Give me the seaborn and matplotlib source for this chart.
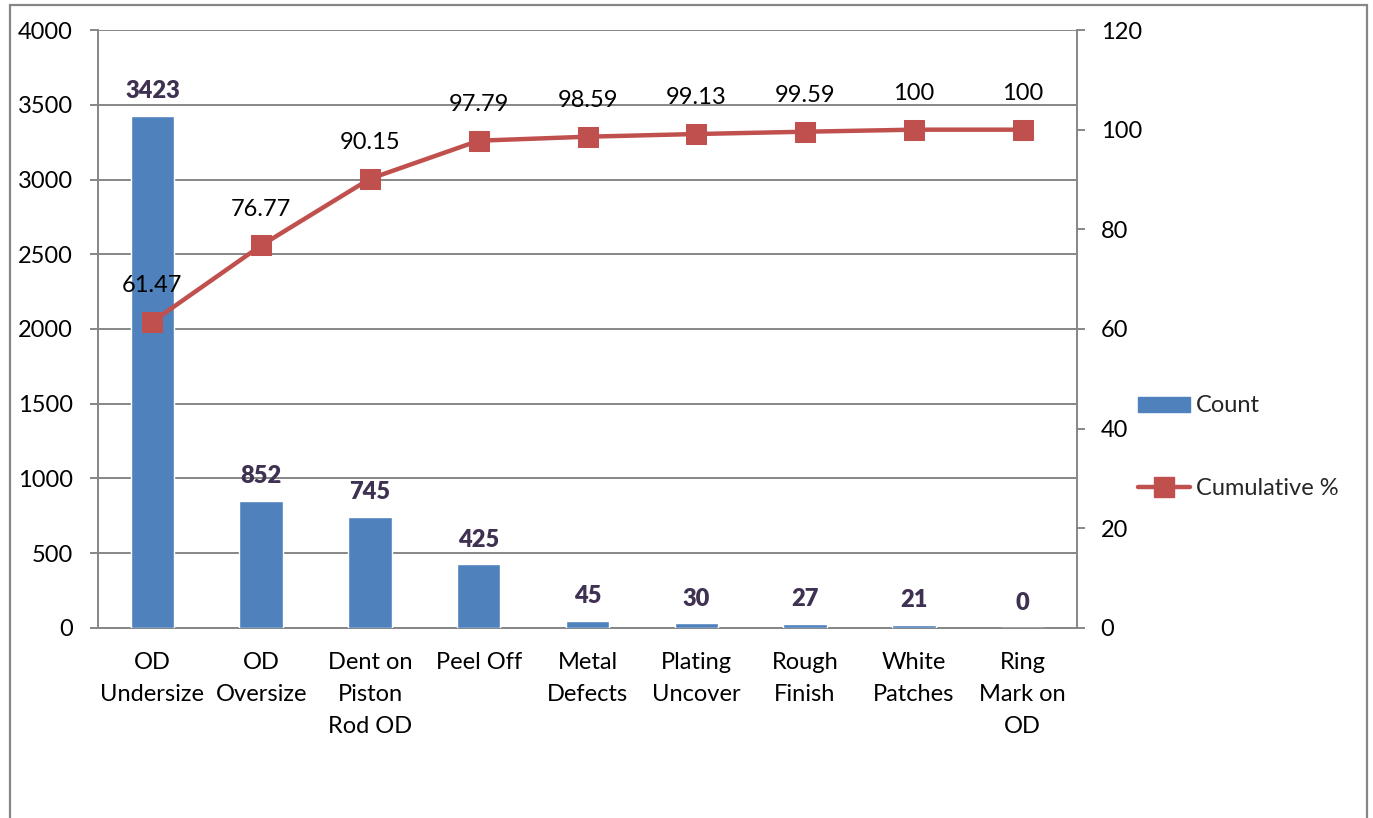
import numpy as np
import pandas as pd
import matplotlib
matplotlib.use("Agg")
import matplotlib.pyplot as plt
import seaborn as sns
from matplotlib.patches import Rectangle, Patch
from matplotlib.lines import Line2D

categories = ["OD\nUndersize", "OD\nOversize", "Dent on\nPiston\nRod OD", "Peel Off",
              "Metal\nDefects", "Plating\nUncover", "Rough\nFinish", "White\nPatches",
              "Ring\nMark on\nOD"]
counts = [3423, 852, 745, 425, 45, 30, 27, 21, 0]
cumulative_pct = [61.47, 76.77, 90.15, 97.79, 98.59, 99.13, 99.59, 100, 100]
left_ticks = [0, 500, 1000, 1500, 2000, 2500, 3000, 3500, 4000]
right_ticks = [0, 20, 40, 60, 80, 100, 120]

BAR = "#4F81BD"
LINE = "#C0504D"
GRID = "#868686"
LABEL = "#3F3151"

sns.set_theme(style="white")
plt.rcParams["font.family"] = ["Lato", "DejaVu Sans"]
FS = 17

df = pd.DataFrame({"category": categories, "count": counts, "cum": cumulative_pct})
df["pos"] = np.arange(len(df))

fig = plt.figure(figsize=(13.73, 8.18), dpi=100)
ax = fig.add_axes([0.0714, 0.2323, 0.713, 0.731])

sns.barplot(data=df, x="category", y="count", color=BAR, width=0.4,
            saturation=1, ax=ax, zorder=3)
ax.bar_label(ax.containers[0], labels=[str(v) for v in counts], padding=10,
             fontsize=FS, fontweight="heavy", color=LABEL)

ax.set_xlim(-0.5, len(categories) - 0.5)
ax.set_ylim(0, 4000)
ax.set_yticks(left_ticks)
ax.set_yticklabels([str(t) for t in left_ticks])
ax.set_xlabel("")
ax.set_ylabel("")
ax.yaxis.grid(True, color=GRID, linewidth=1.4)
ax.set_axisbelow(True)
ax.set_xticks(np.arange(len(categories)))
ax.set_xticklabels(categories, fontsize=FS, linespacing=1.66)
ax.set_xticks(np.arange(len(categories) + 1) - 0.5, minor=True)
ax.tick_params(axis="x", which="major", length=0, pad=17, colors="black")
ax.tick_params(axis="x", which="minor", length=6, width=1.4, color=GRID, direction="out")
ax.tick_params(axis="y", length=6, width=1.4, color=GRID, direction="out",
               pad=12, labelsize=FS, labelcolor="black", left=True)
for side in ["top", "right"]:
    ax.spines[side].set_visible(False)
for side in ["left", "bottom"]:
    ax.spines[side].set_color(GRID)
    ax.spines[side].set_linewidth(1.4)

ax2 = ax.twinx()
sns.lineplot(data=df, x="pos", y="cum", color=LINE, linewidth=3.2, marker="s",
             markersize=14, markeredgecolor=LINE, ax=ax2, zorder=4)
for x, y in zip(df["pos"], df["cum"]):
    ax2.annotate(f"{y:g}", (x, y), xytext=(0, 26), textcoords="offset points",
                 ha="center", va="center", fontsize=FS, color="black")
ax2.set_ylim(0, 120)
ax2.set_yticks(right_ticks)
ax2.set_yticklabels([str(t) for t in right_ticks])
ax2.set_ylabel("")
ax2.set_xlabel("")
ax2.set_xlim(-0.5, len(categories) - 0.5)
ax2.tick_params(axis="y", length=6, width=1.4, color=GRID, direction="out",
                pad=11, labelsize=FS, labelcolor="black", right=True)
for side in ["top", "left", "bottom"]:
    ax2.spines[side].set_visible(False)
ax2.spines["right"].set_color(GRID)
ax2.spines["right"].set_linewidth(1.4)
ax2.grid(False)

handles = [Patch(facecolor=BAR, edgecolor=BAR),
           Line2D([0], [0], color=LINE, linewidth=3.2, marker="s", markersize=14)]
fig.legend(handles, ["Count", "Cumulative %"], loc="center left",
           bbox_to_anchor=(0.829, 0.4535), frameon=False, fontsize=FS,
           handlelength=2.2, handleheight=0.6, handletextpad=0.25,
           labelspacing=2.6, borderpad=0, borderaxespad=0)

fig.patches.append(Rectangle((10 / 1373, -0.05), (1367 - 10) / 1373, 1.05 - 5 / 818,
                             transform=fig.transFigure, fill=False,
                             edgecolor=GRID, linewidth=1.6))

fig.savefig("out.png", dpi=100)
